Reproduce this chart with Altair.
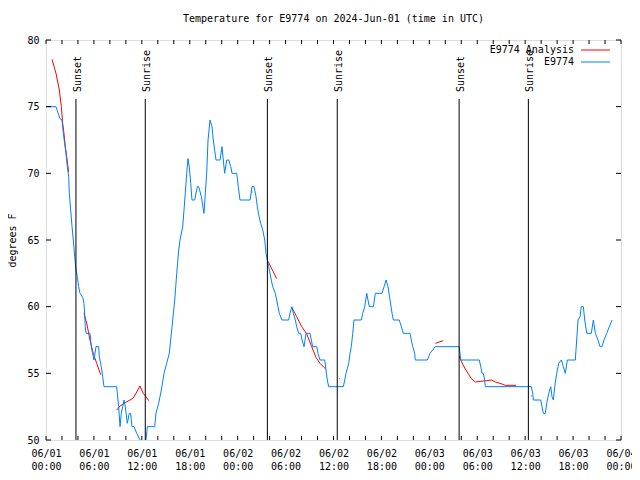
import altair as alt
import pandas as pd

# ---- data ----
obs_hours = [0, 1.25, 1.42, 1.75, 2.0, 2.17, 2.5, 2.67, 2.84, 2.92, 3.09, 3.26, 3.42, 3.59, 3.76, 3.92,
             4.09, 4.26, 4.6, 4.76, 4.92, 5.01, 5.51, 5.67, 6.01, 6.26, 6.6, 6.67, 6.92, 7.1, 7.26,
             8.85, 8.93, 9.1, 9.27, 9.43, 9.6, 9.77, 9.93, 10.18, 10.43, 10.6, 10.77, 11.02, 11.36,
             11.77, 12.15, 12.46, 12.52, 12.69, 13.61, 13.77, 14.11, 14.44, 14.78, 15.11, 15.44,
             15.78, 16.12, 16.37, 16.62, 16.78, 17.12, 17.44, 17.62, 17.78, 17.94, 18.12, 18.28,
             18.62, 18.95, 19.12, 19.45, 19.78, 20.12, 20.29, 20.54, 20.79, 20.95, 21.29, 21.79,
             22.04, 22.2, 22.37, 22.63, 22.88, 23.13, 23.29, 23.88, 24.08, 24.29, 25.55, 25.8,
             26.05, 26.3, 26.46, 26.63, 26.88, 27.14, 27.39, 27.55, 27.71, 27.89, 28.05, 28.21,
             28.39, 28.71, 28.89, 29.05, 29.21, 29.55, 30.39, 30.55, 30.8, 30.97, 31.22, 31.39,
             31.64, 31.89, 32.06, 32.31, 32.56, 33.06, 33.22, 33.39, 33.9, 34.06, 34.31, 34.9,
             35.06, 35.22, 35.4, 37.23, 37.41, 37.57, 37.91, 38.07, 38.23, 38.41, 38.57, 39.48,
             39.66, 39.91, 40.16, 40.48, 40.99, 41.24, 42.07, 42.33, 42.58, 42.83, 43.08, 43.33,
             43.49, 44.24, 44.49, 44.74, 45.58, 45.74, 45.92, 46.17, 46.24, 47.75, 48.08, 48.42,
             48.75, 51.75, 51.84, 51.93, 54.26, 54.44, 54.6, 54.76, 54.93, 55.01, 60.77, 60.94,
             61.02, 61.95, 62.11, 62.27, 62.52, 62.7, 62.95, 63.2, 63.36, 63.53, 63.7, 63.95,
             64.2, 64.53, 64.78, 65.03, 65.28, 66.28, 66.45, 66.62, 66.87, 67.03, 67.28, 67.46,
             67.71, 68.28, 68.54, 68.79, 69.12, 69.37, 69.62, 69.87, 70.21, 70.54, 70.88]
obs_temps = [75, 75, 74.7, 74.1, 74.0, 73, 71.5, 70.5, 69.75, 68.5, 67.25, 66, 65, 63.75, 62.75, 62.25,
             61.5, 61, 60.7, 60.25, 58.5, 58, 58, 57, 56, 57, 57, 56.25, 55.5, 54.75, 54,
             54, 53.5, 52.5, 51, 52, 52.5, 53, 52.5, 51.25, 52, 52, 51, 51, 50.5,
             50, 49.5, 49.5, 50, 51, 51, 52, 52.75, 53.75, 55, 55.75, 56.5,
             58.5, 60.5, 62.5, 64.25, 65, 66, 68.5, 70, 71.1, 70.5, 69.25, 68,
             68, 69, 69, 68.25, 67, 70, 72.5, 74, 73.5, 72.5, 71, 71,
             72, 71, 70, 71, 71, 70.5, 70, 70, 69, 68, 68, 69,
             69, 68.25, 67.5, 66.9, 66.25, 65.75, 65, 64, 63.5, 63, 62.5, 62,
             61.5, 61, 60.5, 60, 59.5, 59, 59, 59.5, 60, 59.5, 59, 58.5,
             58, 58, 57.5, 57, 58, 58, 57.5, 57, 57, 56.5, 56, 56,
             55.25, 54.5, 54, 54, 54.5, 55, 55.75, 56.5, 57, 58, 59, 59,
             59.5, 60, 61, 60, 60, 61, 61, 61.5, 62, 61.5, 60.5, 59.5,
             59, 59, 58.5, 58, 58, 57.5, 57, 56.5, 56, 56, 56.5, 56.75,
             57, 57, 56.5, 56, 56, 55.5, 55, 55, 54.5, 54, 54, 53.5,
             53, 53, 52.5, 52, 52, 52.75, 53.5, 54, 53.25, 53, 54, 55,
             55.75, 56, 55.5, 55, 56, 56, 57.5, 59, 59.25, 60, 60, 59,
             58, 58, 59, 58, 57.5, 57, 57, 57.5, 58, 58.5, 59]

ana_segment = [1] * 10 + [2] * 6 + [3] * 10 + [4] * 2 + [5] * 2 + [6] * 8 + [7] * 2 + [8] * 2 + [9] * 13 + [10] * 2
ana_hours = [0.75, 1.25, 1.67, 1.92, 2.09, 2.25, 2.42, 2.59, 2.75, 2.84,
             4.76, 5.1, 5.51, 5.92, 6.35, 6.85,
             8.85, 9.27, 9.93, 10.52, 10.93, 11.36, 11.77, 12.18, 12.52, 12.86,
             25.74, 25.86,
             27.8, 28.89,
             30.8, 31.39, 32.02, 32.65, 33.27, 33.81, 34.31, 35.06,
             36.68, 36.78,
             48.75, 49.75,
             51.75, 52.0, 52.43, 52.84, 53.26, 53.76, 54.35, 55.19, 55.76, 56.26, 56.85, 57.52, 58.86,
             60.72, 60.82]
ana_temps = [78.55, 77.5, 76.25, 75, 73.75, 73, 72, 71.25, 70.5, 70.1,
             59.5, 58.75, 57.5, 56.5, 55.75, 54.9,
             52.25, 52.55, 52.8, 53, 53.15, 53.6, 54.05, 53.5, 53.25, 52.95,
             68.6, 68.6,
             63.4, 62.1,
             59.9, 59.25, 58.5, 57.95, 57, 56.2, 55.75, 55.3,
             54.6, 54.6,
             57.25, 57.45,
             56.3, 55.9, 55.4, 55, 54.6, 54.35, 54.4, 54.45, 54.5, 54.35, 54.25, 54.1, 54.1,
             53.3, 53.3]

event_names = ["Sunset", "Sunrise", "Sunset", "Sunrise", "Sunset", "Sunrise"]
event_hours = [3.75, 12.43, 27.72, 36.47, 51.73, 60.4]

x_label_hours = list(range(0, 73, 6))
x_tick_hours = list(range(0, 73, 2))
y_tick_values = [50, 55, 60, 65, 70, 75, 80]

legend_names = ["E9774 Analysis", "E9774"]
title_text = "Temperature for E9774 on 2024-Jun-01 (time in UTC)"
RED = "#ff0000"
BLUE = "#0080ff"
FONT = "DejaVu Sans Mono"

obs = pd.DataFrame({"h": obs_hours, "t": obs_temps})
ana = pd.DataFrame({"h": ana_hours, "t": ana_temps, "seg": ana_segment})
events = pd.DataFrame({"name": event_names, "h": event_hours})
xt = pd.DataFrame({"h": x_tick_hours})
yt = pd.DataFrame({"t": y_tick_values})

label_expr = ("['06/0' + (1 + floor(datum.value / 24)), "
              "(datum.value % 24 < 10 ? '0' : '') + (datum.value % 24) + ':00']")

xscale = alt.Scale(domain=[0, 72], nice=False, zero=False)
yscale = alt.Scale(domain=[50, 80], nice=False, zero=False)

x_enc = alt.X("h:Q", scale=xscale,
              axis=alt.Axis(values=x_label_hours, labelExpr=label_expr, ticks=False, domain=False,
                            grid=False, labelPadding=8, labelFont=FONT, labelFontSize=10,
                            labelLineHeight=13, labelColor="black", title=None,
                            labelFlush=False, labelOverlap=False, labelBound=False))
y_enc = alt.Y("t:Q", scale=yscale,
              axis=alt.Axis(values=y_tick_values, ticks=False, domain=False, grid=False,
                            labelPadding=7, labelFont=FONT, labelFontSize=10, labelColor="black",
                            labelFlush=False, labelOverlap=False,
                            title="degrees F", titleFont=FONT, titleFontSize=10,
                            titleFontWeight="normal", titleColor="black", titlePadding=9))

base_ana = alt.Chart(ana).mark_line(color=RED, strokeWidth=1, clip=True).encode(
    x=x_enc, y=y_enc, detail="seg:N", order="h:Q")
base_obs = alt.Chart(obs).mark_line(color=BLUE, strokeWidth=1, clip=True).encode(
    x=alt.X("h:Q", scale=xscale), y=alt.Y("t:Q", scale=yscale), order="h:Q")

ev_rules = alt.Chart(events).mark_rule(color="black", strokeWidth=1).encode(
    x=alt.X("h:Q", scale=xscale), y=alt.value(59), y2=alt.value(400))
ev_text = alt.Chart(events).mark_text(angle=270, align="left", baseline="middle", dy=2,
                                      font=FONT, fontSize=10, color="black").encode(
    x=alt.X("h:Q", scale=xscale), y=alt.value(52), text="name:N")

xt_bottom = alt.Chart(xt).mark_rule(color="black").encode(
    x=alt.X("h:Q", scale=xscale), y=alt.value(400), y2=alt.value(396))
xt_top = alt.Chart(xt).mark_rule(color="black").encode(
    x=alt.X("h:Q", scale=xscale), y=alt.value(0), y2=alt.value(4))
yt_left = alt.Chart(yt).mark_rule(color="black").encode(
    y=alt.Y("t:Q", scale=yscale), x=alt.value(0), x2=alt.value(5))
yt_right = alt.Chart(yt).mark_rule(color="black").encode(
    y=alt.Y("t:Q", scale=yscale), x=alt.value(575), x2=alt.value(570))

title_layer = alt.Chart(pd.DataFrame({"title": [title_text]})).mark_text(
    align="center", baseline="middle", font=FONT, fontSize=10, color="black").encode(
    x=alt.value(287.5), y=alt.value(-21), text="title:N")

leg_layers = []
for i, (name, col) in enumerate(zip(legend_names, [RED, BLUE])):
    ypix = 10 + 12 * i
    d = pd.DataFrame({"name": [name]})
    leg_layers.append(alt.Chart(d).mark_text(align="right", baseline="middle", font=FONT,
                                             fontSize=10, color="black").encode(
        x=alt.value(528), y=alt.value(ypix), text="name:N"))
    leg_layers.append(alt.Chart(d).mark_rule(color=col, strokeWidth=1).encode(
        x=alt.value(535), x2=alt.value(564), y=alt.value(ypix)))

chart = alt.layer(
    base_ana, base_obs, ev_rules, ev_text, xt_bottom, xt_top, yt_left, yt_right,
    title_layer, *leg_layers
).properties(
    width=575, height=400,
    autosize=alt.AutoSizeParams(type="none"),
    padding={"left": 38, "top": 32, "right": 11, "bottom": 32},
).configure_view(stroke="black", strokeWidth=1).configure(background="white")

chart.save("out.html", embed_options={"renderer": "svg", "actions": False})
